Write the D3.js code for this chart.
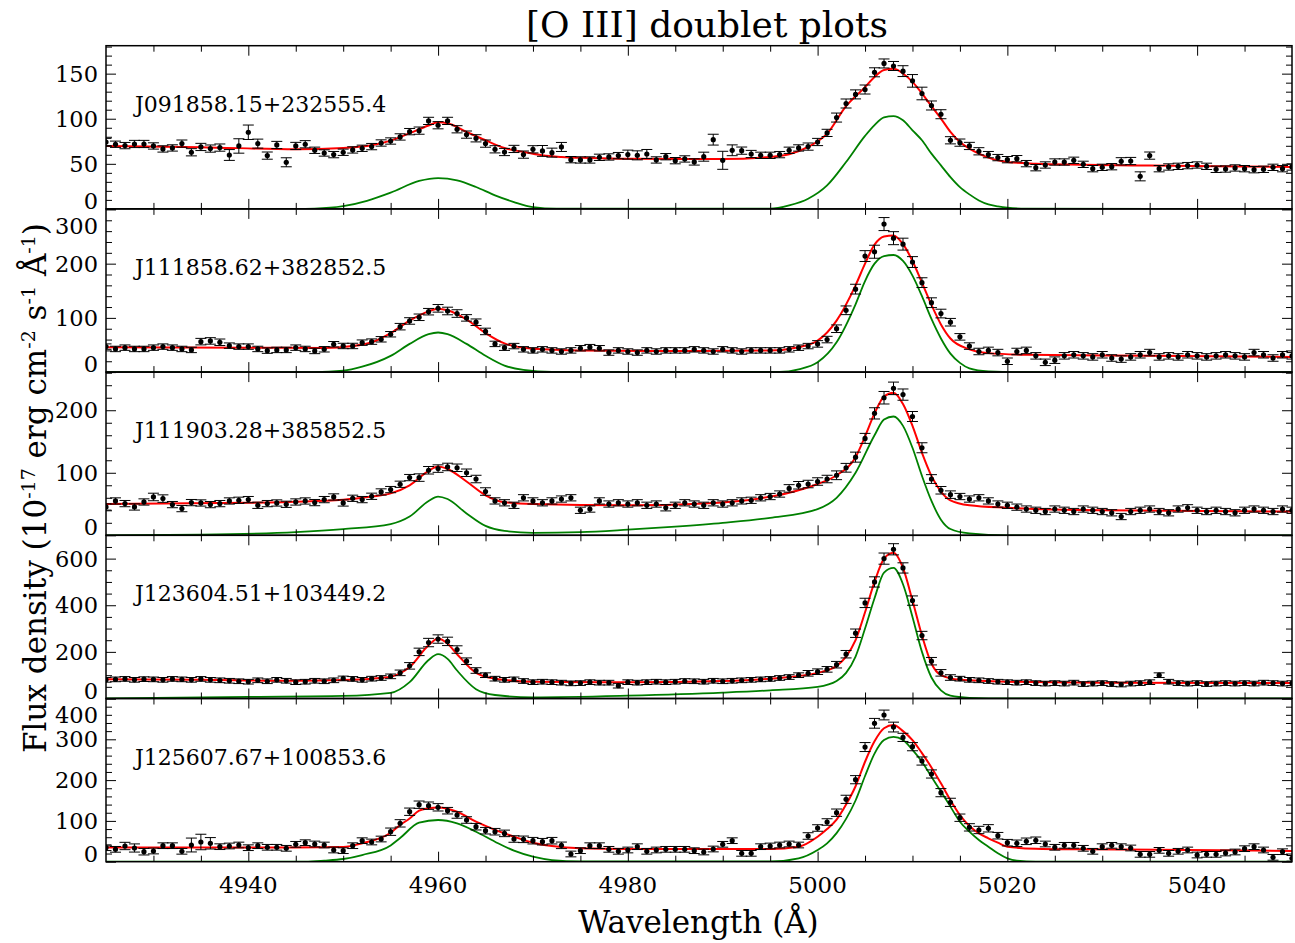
<!DOCTYPE html>
<html>
<head>
<meta charset="utf-8">
<script src="https://cdn.jsdelivr.net/npm/d3@7"></script>
<style>
  body { margin: 0; background: #fff; }
  svg { display: block; }
  text { font-family: "DejaVu Serif", serif; fill: #000; }
</style>
</head>
<body>
<svg id="chart" width="1295" height="943"></svg>
<script>
// ---- wavelength grid (Angstrom) shared by every spectrum ----
const wavelength = [
  4925,4926,4927,4928,4929,4930,4931,4932,4933,4934,4935,4936,4937,4938,4939,4940,4941,4942,4943,4944,
  4945,4946,4947,4948,4949,4950,4951,4952,4953,4954,4955,4956,4957,4958,4959,4960,4961,4962,4963,4964,
  4965,4966,4967,4968,4969,4970,4971,4972,4973,4974,4975,4976,4977,4978,4979,4980,4981,4982,4983,4984,
  4985,4986,4987,4988,4989,4990,4991,4992,4993,4994,4995,4996,4997,4998,4999,5000,5001,5002,5003,5004,
  5005,5006,5007,5008,5009,5010,5011,5012,5013,5014,5015,5016,5017,5018,5019,5020,5021,5022,5023,5024,
  5025,5026,5027,5028,5029,5030,5031,5032,5033,5034,5035,5036,5037,5038,5039,5040,5041,5042,5043,5044,
  5045,5046,5047,5048,5049,5050
];

const objectNames = [
  "J091858.15+232555.4",
  "J111858.62+382852.5",
  "J111903.28+385852.5",
  "J123604.51+103449.2",
  "J125607.67+100853.6"
];

// ---- J091858.15+232555.4 ----
const flux1 = [
  74.2,71.7,70.2,72,72,69.8,66.5,67.6,72.4,62.8,68.7,66.9,68,59.8,69.8,85,72.4,59.1,70.9,51.7,
  69.8,71.7,65,62,60.2,62.8,65.4,67.2,69.1,73.1,75.3,79.8,85.7,86.8,97.6,92.8,97.6,88.3,82.4,78.3,
  72.4,66.1,63.1,66.5,60.2,66.1,64.3,62.4,68.7,54.6,54.3,54.3,57.2,57.6,59.1,60.2,59.4,60.9,54.3,57.9,
  53.5,55.4,52.1,57.9,76.8,53.9,65,64.6,60.9,59.4,59.4,60.2,65,67.6,69.1,74.2,84.3,101.3,116.9,127,
  132.4,151.5,161.3,158.5,152.8,142,128,114.7,105,76.1,73.5,69.8,63.9,60.2,56.9,54.6,55.7,50.2,45.7,48.7,
  52,52,53.9,49.4,44.6,46.1,46.8,52.8,53.1,36.1,59.1,44.6,46.5,47.2,48,48.7,47.2,43.9,44.2,45.4,
  44.6,43.5,43.9,46.1,44.6,46.5
];
const err1 = [
  4,3.5,3.5,4,4,3.5,3.5,3.5,4,4, 4,4,4,6,8,8,5,4,4,5,
  4,4,3.5,3.5,3.5,3.5,3.5,3.5,3.5,3.5, 3.5,3.5,3.5,4,4,4,4,4,4,4,
  4,4,4,4,4,4,6,5,5,3.5, 3.5,3.5,3.5,3.5,3.5,5,5,5,3.5,3.5,
  3.5,3.5,3.5,5,6,10,6,4,4,3.5, 3.5,3.5,3.5,3.5,4,4,4,5,5,5,
  5,5,5,5,6,7,7,5,5,4, 4,4,4,3.5,3.5,3.5,3.5,3.5,3.5,3.5,
  3.5,3.5,3.5,3.5,3.5,3.5,3.5,4,4,5, 4,3.5,3.5,3.5,3.5,3.5,3.5,3.5,3.5,3.5,
  3.5,3.5,3.5,3.5,3.5,3.5
];
const fit1 = [
  [4925,69.8],[4935,68.5],[4945,66.1],[4950,67.6],[4953,70.5],[4955,75.7],[4957,84],[4959,92.5],[4960,96],[4961,95],
  [4963,85.4],[4965,76.1],[4967,67.6],[4969,63.1],[4971,59.4],[4973,57.6],[4976,56.5],[4980,55.7],[4990,55.4],[4995,57.6],
  [4997,60.6],[4999,68.7],[5001,83.5],[5003,113.9],[5005,135],[5006,146.4],[5007,154],[5008,155.4],[5009,150.2],[5010,140.9],
  [5011,128],[5012,113.9],[5013,100.2],[5014,85.4],[5015,74.2],[5016,66.9],[5017,61.3],[5018,56.9],[5019,53.9],[5020,52],
  [5023,50.2],[5028,49.1],[5035,48],[5042,47.2],[5050,46.5]
];
const oiii1 = [
  [4925,0],[4945,0],[4947,0.3],[4950,3],[4952.5,9],[4955,18],[4958,31],[4960,34.2],[4962,31.7],[4964,24.3],
  [4966,15],[4968,7.6],[4970,2],[4972.5,0.2],[4995,0.2],[4997,3.9],[4999,11.3],[5001,26.1],[5003,52],[5005,81],
  [5006,93],[5007,101.5],[5008,103],[5009,98.3],[5010,87.2],[5011,76.1],[5012,61.3],[5013,48.3],[5014,35.3],[5015,24.2],
  [5016,16.1],[5017,9.4],[5018,5],[5019,2.8],[5020,1.3],[5022,0.2],[5050,0]
];

// ---- J111858.62+382852.5 ----
const flux2 = [
  47,42.7,45.1,42.7,42.7,45.1,47,45.1,42.7,40.9,56.2,57.5,55,48.8,47,47,42.7,39.6,40.9,40.9,
  45.1,42.7,39,42.1,51.4,48.2,48.2,54.3,56.2,60.5,69.8,83.8,94.3,101.1,111.4,117.6,112.7,108,100,92,
  75,52,45,48,42,40,42,40,38,40,44,46,44,36,40,38,36,40,38,40,
  40,40,42,40,38,42,40,38,40,40,40,40,42,45,48,52,60,80,114,153,
  214,222,273,247,236,203,165,128,108,92,65,48,38,40,36,20,38,40,30,18,
  22,30,32,30,28,32,26,24,28,32,36,28,30,28,32,30,28,30,32,30,
  28,36,32,26,32,30
];
const err2 = [
  5,5,5,5,5,5,5,5,5,5, 6,6,6,5,5,5,5,5,5,5,
  5,5,5,5,5,5,5,5,5,5, 5,6,6,6,6,7,7,7,6,6,
  6,5,5,5,5,5,5,5,5,5, 5,5,5,5,5,5,5,5,5,5,
  5,5,5,5,5,5,5,5,5,5, 5,5,5,5,5,6,6,7,8,9,
  10,12,12,12,11,10,9,9,8,7, 6,6,6,6,6,6,6,6,6,6,
  6,6,6,6,6,6,6,6,6,6, 6,6,6,6,6,6,6,6,6,6,
  6,6,6,6,6,6
];
const fit2 = [
  [4925,46],[4940,45],[4948,44.5],[4951,48],[4953,55],[4955,72],[4957,95],[4959,112],[4960,117],[4961,114],
  [4963,97],[4965,72],[4967,53],[4970,43],[4975,40],[4985,39],[4995,40],[4998,46],[5000,58],[5002,95],
  [5004,160],[5005,200],[5006,235],[5007,250],[5008,252],[5009,236],[5010,205],[5011,165],[5012,124],[5013,88],
  [5014,62],[5016,42],[5018,35],[5022,32],[5035,30],[5050,28]
];
const oiii2 = [
  [4925,0],[4947,0],[4950,2.5],[4952,10],[4955,30],[4957,52],[4959,70],[4960,73],[4961,70],[4963,52],
  [4965,30],[4967,12],[4969,4],[4972,0.3],[4996,0.3],[4998,5],[5000,18],[5002,55],[5004,125],[5005,168],
  [5006,200],[5007,214],[5008,216],[5009,205],[5010,178],[5011,140],[5012,98],[5013,62],[5014,34],[5015,17],
  [5016,7],[5018,1.5],[5021,0],[5050,0]
];

// ---- J111903.28+385852.5 ----
const flux3 = [
  45.3,54.9,50.7,45.3,53.3,61.3,58.7,49.1,42.7,52.3,51.7,49.1,50.7,54.9,56,57.1,48,50.7,51.7,49.6,
  53.3,54.9,52.3,57.1,61.3,51.7,59.2,57.1,62.4,69.3,73.1,81.6,92.3,92.3,104,106.7,109.3,108,100,90,
  70,55,52,48,60,55,52,55,58,60,40,42,55,50,52,50,52,48,50,44,
  48,52,50,48,52,50,52,55,56,60,62,66,75,80,82,86,90,96,108,125,
  155,195,220,235,225,190,140,90,72,65,62,58,60,55,50,48,45,42,40,38,
  42,40,38,42,40,38,36,30,38,40,42,38,36,42,44,40,38,40,38,36,
  40,42,40,38,42,40
];
const err3 = [
  5,5,5,5,5,6,6,5,5,5, 5,5,5,5,5,5,5,5,5,5,
  5,5,5,5,5,5,5,5,5,5, 5,5,5,6,6,6,6,6,6,6,
  6,5,5,5,5,5,5,5,5,5, 5,5,5,5,5,5,5,5,5,5,
  5,5,5,5,5,5,5,5,5,5, 5,5,6,6,6,6,6,7,7,8,
  8,9,10,10,9,8,8,7,6,6, 5,5,5,5,5,5,5,5,5,5,
  5,5,5,5,5,5,5,5,5,5, 5,5,5,5,5,5,5,5,5,5,
  5,5,5,5,5,5
];
const fit3 = [
  [4925,50],[4940,52],[4950,57],[4953,62],[4955,67],[4957,80],[4959,103],[4960,110],[4961,106],[4963,86],
  [4965,64],[4967,53],[4970,50],[4980,48],[4988,51],[4993,57],[4997,68],[5000,82],[5002,96],[5004,125],
  [5005,158],[5006,195],[5007,222],[5008,228],[5009,210],[5010,175],[5011,132],[5012,95],[5013,70],[5014,56],
  [5016,48],[5020,44],[5030,40],[5050,38]
];
const oiii3 = [
  [4925,0],[4935,1],[4945,5],[4950,10],[4955,18],[4957,30],[4959,55],[4960,62],[4961,58],[4963,35],
  [4965,15],[4967,7],[4970,4],[4975,5],[4980,9],[4985,14],[4990,20],[4995,28],[5000,42],[5002,60],
  [5004,100],[5006,160],[5007,185],[5008,190],[5009,175],[5010,140],[5011,95],[5012,55],[5013,25],[5014,10],
  [5016,3],[5020,0],[5050,0]
];

// ---- J123604.51+103449.2 ----
const flux4 = [
  80,82,84,80,83,82,80,84,82,80,84,80,78,76,74,72,78,74,80,76,
  70,72,76,74,78,86,84,80,85,88,95,110,140,200,240,255,245,210,160,120,
  100,85,80,82,75,70,72,70,68,65,66,70,68,68,55,70,68,70,72,70,
  72,75,74,72,76,74,76,78,80,82,84,88,92,100,108,115,125,145,190,280,
  410,500,600,640,560,420,270,160,110,90,85,80,78,75,72,70,68,70,66,64,
  66,64,68,62,64,66,62,60,64,66,70,100,72,66,64,66,62,64,66,64,
  66,64,68,66,64,66
];
const err4 = [
  10,10,10,10,10,10,10,10,10,10, 10,10,10,10,10,10,10,10,10,10,
  10,10,10,10,10,10,10,10,10,10, 10,12,14,16,18,18,18,16,14,12,
  10,10,10,10,10,10,10,10,10,10, 10,10,10,10,10,10,10,10,10,10,
  10,10,10,10,10,10,10,10,10,10, 10,10,10,10,12,12,12,14,16,18,
  20,22,24,24,22,20,18,16,14,12, 10,10,10,10,10,10,10,10,10,10,
  10,10,10,10,10,10,10,10,10,10, 10,10,10,10,10,10,10,10,10,10,
  10,10,10,10,10,10
];
const fit4 = [
  [4925,83],[4935,80],[4945,76],[4950,79],[4953,85],[4955,93],[4957,135],[4959,228],[4960,257],[4961,235],
  [4962,190],[4964,110],[4966,85],[4970,72],[4980,70],[4990,75],[4995,85],[5000,110],[5002,140],[5003,180],
  [5004,250],[5005,370],[5006,500],[5007,600],[5008,625],[5009,560],[5010,420],[5011,270],[5012,150],[5013,100],
  [5015,80],[5020,72],[5030,68],[5050,66]
];
const oiii4 = [
  [4925,0],[4940,7],[4950,11],[4955,24],[4957,70],[4959,165],[4960,190],[4961,170],[4962,120],[4964,40],
  [4966,15],[4970,5],[4980,12],[4990,25],[4995,35],[5000,50],[5002,75],[5003,110],[5004,180],[5005,300],
  [5006,430],[5007,540],[5008,560],[5009,490],[5010,350],[5011,200],[5012,90],[5013,35],[5014,12],[5016,3],
  [5020,0],[5050,0]
];

// ---- J125607.67+100853.6 ----
const flux5 = [
  34.3,30.3,38.5,33.6,24.5,26.2,39.2,39.2,25.5,40.9,48.3,45.1,36.8,38.5,40.9,34.3,39.2,35.3,35.3,32.8,
  42.6,46.6,43.4,40.9,28.7,27,39.2,51.5,48.3,55.6,73.5,94,122.5,139.7,137.3,133.3,125,114.5,102.2,85.8,
  76,73.5,69.4,55.6,54.8,51.5,49,51.5,40.1,18.9,27,39.2,39.2,30.3,25.5,28.7,36.8,25.5,28.7,30.3,
  30.3,30.3,27,23.8,31.1,42.6,51.5,20.5,20.5,36.8,38.5,40.9,43.4,40.9,63,82.6,97.3,120.1,152.9,201,
  281,339.2,359.6,330,304.7,281.9,246.8,215,169.2,145.5,107.8,84.2,77.7,81.8,63.7,46.6,45.1,50,52.5,43.4,
  35.3,40.1,40.1,32.8,25.5,36.8,40.1,36.8,33.6,18,18,27.8,20.5,25.5,28.7,16.4,18,18,21.3,23.8,
  31.9,36.8,28.7,10.7,24.5,8.2
];
const err5 = [
  7,7,9,10,8,7,7,7,7,17, 19,14,7,7,7,7,7,7,7,7,
  7,7,7,7,7,7,7,7,7,7, 9,9,9,9,9,9,8,8,8,8,
  8,8,8,8,8,8,8,8,8,7, 7,7,7,7,7,7,7,7,7,7,
  7,7,7,7,7,7,7,7,7,7, 7,7,7,7,8,8,8,9,10,10,
  11,12,12,12,10,10,10,10,10,10, 9,9,9,9,8,8,8,8,8,7,
  7,7,7,7,7,7,7,7,7,7, 7,7,7,7,7,7,7,7,7,7,
  7,7,7,7,7,7
];
const fit5 = [
  [4925,35],[4945,35],[4950,36],[4952,45],[4955,71],[4956,90],[4957,106],[4958,125],[4959,131],[4960,133],
  [4961,130],[4962,122.5],[4964,98],[4966,78],[4968,61.3],[4970,46.6],[4972,38.5],[4975,32.8],[4980,31.1],[4995,31.1],
  [4998,36.8],[5000,61.3],[5001,80],[5002,103],[5003,140],[5004,185],[5005,245],[5006,295],[5007,327],[5008,335],
  [5009,320],[5010,298],[5011,266],[5012,231],[5013,192],[5014,151],[5015,114.5],[5016,87.5],[5017,69.6],[5018,57.4],
  [5019,46.6],[5020,36.8],[5023,31.9],[5028,30.3],[5039,28.7],[5050,26.2]
];
const oiii5 = [
  [4925,0],[4946,0],[4948,2.5],[4950,6.6],[4952,16.4],[4955,40],[4956,58],[4958,95.6],[4960,102.2],[4962,94],
  [4964,73.5],[4966,49],[4968,27],[4970,12.3],[4972,4.1],[4975,0.5],[4995,0.5],[4998,8.2],[5000,28.7],[5001,45],
  [5002,70],[5003,105],[5004,150],[5005,210],[5006,265],[5007,298],[5008,306],[5009,298],[5010,274],[5011,245],
  [5012,208],[5013,172],[5014,135],[5015,98],[5016,73.5],[5017,53],[5018,36.8],[5019,20.5],[5020,8.2],[5021,2.5],
  [5023,0],[5050,0]
];

// ---- axis settings ----
const yTop = [181, 301, 261, 700, 400];
const yMajorStep = [50, 100, 100, 200, 100];
const yMinorStep = [10, 20, 20, 50, 20];
const xMajorTicks = [4940, 4960, 4980, 5000, 5020, 5040];
const xMinorTicks = [4930, 4935, 4945, 4950, 4955, 4965, 4970, 4975, 4985, 4990, 4995,
                     5005, 5010, 5015, 5025, 5030, 5035, 5045];

const panels = [
  { name: objectNames[0], flux: flux1, err: err1, fit: fit1, oiii: oiii1 },
  { name: objectNames[1], flux: flux2, err: err2, fit: fit2, oiii: oiii2 },
  { name: objectNames[2], flux: flux3, err: err3, fit: fit3, oiii: oiii3 },
  { name: objectNames[3], flux: flux4, err: err4, fit: fit4, oiii: oiii4 },
  { name: objectNames[4], flux: flux5, err: err5, fit: fit5, oiii: oiii5 }
];

// ---- layout ----
const svg = d3.select("#chart");
const plotLeft = 106, plotRight = 1292, plotTop = 45.7, panelH = 163.2;
const nPanels = panels.length;
const plotBottom = plotTop + nPanels * panelH;

const x = d3.scaleLinear().domain([4925, 5050]).range([plotLeft, plotRight]);

const defs = svg.append("defs");

panels.forEach((p, i) => {
  const y0 = plotTop + i * panelH, y1 = y0 + panelH;
  const y = d3.scaleLinear().domain([0, yTop[i]]).range([y1, y0]);
  const g = svg.append("g");

  defs.append("clipPath").attr("id", "clip" + i)
    .append("rect").attr("x", plotLeft).attr("y", y0)
    .attr("width", plotRight - plotLeft).attr("height", panelH);

  const body = g.append("g").attr("clip-path", `url(#clip${i})`);
  const line = d3.line().x(d => x(d[0])).y(d => y(d[1])).curve(d3.curveMonotoneX);

  // fitted [O III] components
  body.append("path").attr("d", line(p.oiii))
    .attr("fill", "none").attr("stroke", "#008000").attr("stroke-width", 1.8);
  // total model
  body.append("path").attr("d", line(p.fit))
    .attr("fill", "none").attr("stroke", "#ff0000").attr("stroke-width", 2);

  // measured flux with error bars
  const pts = wavelength.map((w, k) => ({ w, f: p.flux[k], e: p.err[k] }));
  const eb = body.append("g").attr("stroke", "#000").attr("stroke-width", 1);
  eb.selectAll("line.v").data(pts).join("line").attr("class", "v")
    .attr("x1", d => x(d.w)).attr("x2", d => x(d.w))
    .attr("y1", d => y(d.f - d.e)).attr("y2", d => y(d.f + d.e));
  eb.selectAll("line.t").data(pts).join("line").attr("class", "t")
    .attr("x1", d => x(d.w) - 5.5).attr("x2", d => x(d.w) + 5.5)
    .attr("y1", d => y(d.f + d.e)).attr("y2", d => y(d.f + d.e));
  eb.selectAll("line.b").data(pts).join("line").attr("class", "b")
    .attr("x1", d => x(d.w) - 5.5).attr("x2", d => x(d.w) + 5.5)
    .attr("y1", d => y(d.f - d.e)).attr("y2", d => y(d.f - d.e));
  body.selectAll("circle").data(pts).join("circle")
    .attr("cx", d => x(d.w)).attr("cy", d => y(d.f)).attr("r", 2.6).attr("fill", "#000");

  // ticks on all four sides, pointing inward
  const tickGroup = (axis, tx, ty) => {
    const a = g.append("g").attr("transform", `translate(${tx},${ty})`).call(axis);
    a.select(".domain").remove();
    a.selectAll("text").remove();
    a.selectAll("line").attr("stroke", "#000").attr("stroke-width", 1);
  };
  tickGroup(d3.axisBottom(x).tickValues(xMajorTicks).tickSize(-10).tickSizeOuter(0), 0, y1);
  tickGroup(d3.axisBottom(x).tickValues(xMinorTicks).tickSize(-6).tickSizeOuter(0), 0, y1);
  tickGroup(d3.axisTop(x).tickValues(xMajorTicks).tickSize(-10).tickSizeOuter(0), 0, y0);
  tickGroup(d3.axisTop(x).tickValues(xMinorTicks).tickSize(-6).tickSizeOuter(0), 0, y0);

  const yMaj = d3.range(0, yTop[i] + 0.001, yMajorStep[i]);
  const yMin = d3.range(0, yTop[i], yMinorStep[i]).filter(v => v % yMajorStep[i] !== 0);
  tickGroup(d3.axisLeft(y).tickValues(yMaj).tickSize(-10).tickSizeOuter(0), plotLeft, 0);
  tickGroup(d3.axisLeft(y).tickValues(yMin).tickSize(-6).tickSizeOuter(0), plotLeft, 0);
  tickGroup(d3.axisRight(y).tickValues(yMaj).tickSize(-10).tickSizeOuter(0), plotRight, 0);
  tickGroup(d3.axisRight(y).tickValues(yMin).tickSize(-6).tickSizeOuter(0), plotRight, 0);

  // y tick labels, kept inside the panel's vertical extent
  g.selectAll("text.ylab").data(yMaj).join("text").attr("class", "ylab")
    .attr("x", 98)
    .attr("y", v => Math.max(y0 + 16.5, Math.min(y1 - 8, y(v))))
    .attr("dy", "0.36em")
    .attr("text-anchor", "end")
    .attr("font-size", 22.5)
    .text(v => v);

  // panel frame
  g.append("rect").attr("x", plotLeft).attr("y", y0)
    .attr("width", plotRight - plotLeft).attr("height", panelH)
    .attr("fill", "none").attr("stroke", "#000").attr("stroke-width", 1.5);

  // object name
  g.append("text").attr("x", 135).attr("y", y0 + 66)
    .attr("font-size", 22).text(p.name);
});

// x tick labels under the last panel
svg.append("g").selectAll("text").data(xMajorTicks).join("text")
  .attr("x", d => x(d)).attr("y", plotBottom + 31)
  .attr("text-anchor", "middle").attr("font-size", 23).text(d => d);

// titles
svg.append("text").attr("x", 707).attr("y", 37).attr("text-anchor", "middle")
  .attr("font-size", 36).text("[O III] doublet plots");

svg.append("text").attr("x", 698.5).attr("y", 933).attr("text-anchor", "middle")
  .attr("font-size", 31).text("Wavelength (Å)");

const yl = svg.append("text")
  .attr("transform", "translate(46,488) rotate(-90)")
  .attr("text-anchor", "middle").attr("font-size", 31);
const ylParts = [
  ["Flux density (10", false], ["-17", true], [" erg cm", false], ["-2", true],
  [" s", false], ["-1", true], [" Å", false], ["-1", true], [")", false]
];
ylParts.forEach(([t, sup]) => {
  const ts = yl.append("tspan").text(t);
  if (sup) ts.attr("font-size", 19).attr("baseline-shift", "super");
});
</script>
</body>
</html>
